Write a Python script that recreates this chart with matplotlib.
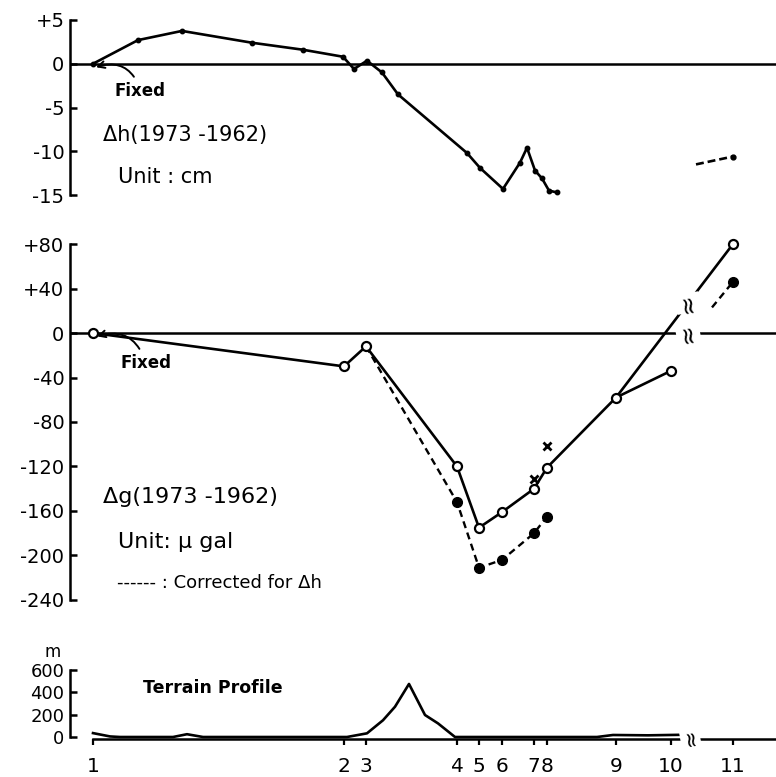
import numpy as np
import matplotlib
matplotlib.use("Agg")
import matplotlib.pyplot as plt

# stations along the profile (horizontal position, arbitrary units)
st_x = [0, 25.1, 27.3, 36.4, 38.6, 40.9, 44.1, 45.4, 52.3, 57.8, 64.0]
st_labels = ['1', '2', '3', '4', '5', '6', '7', '8', '9', '10', '11']

# dh (1973-1962), cm, levelling benchmarks
dh_x = [0, 4.5, 8.9, 15.9, 21.0, 25.0, 26.1, 27.4, 28.9, 30.5, 37.4, 38.7, 41.0,
        42.7, 43.4, 44.2, 44.9, 45.6, 46.4]
dh_val = [0, 2.7, 3.75, 2.4, 1.6, 0.8, -0.6, 0.35, -1.0, -3.5, -10.2, -11.9, -14.3,
          -11.3, -9.6, -12.2, -13.1, -14.5, -14.7]
dh_stub_x = [60.3, 64.0]
dh_stub_val = [-11.5, -10.6]

# dg (1973-1962), microgal, observed at stations 1..11
dg_obs = [0, -30, -12, -120, -175, -161, -140, -121, -58, -34, 80]
# corrected for dh, stations 3..8
dg_corr_idx = [2, 3, 4, 5, 6, 7]
dg_corr = [-12, -152, -211, -204, -180, -165]
dg_stub_x = [61.9, 64.0]
dg_stub_val = [23, 46]
# crosses near stations 7 and 8
cross_idx = [6, 7]
cross_val = [-131.5, -101.6]

# terrain profile, m
ter_x = [0, 1.7, 2.7, 8.0, 9.4, 11.0, 25.4, 27.4, 29.0, 30.2, 31.6, 33.2, 34.5,
         36.2, 50.4, 52.0, 55.5, 59.0]
ter_m = [35, 5, 0, 0, 25, 0, 0, 33, 150, 271, 475, 197, 122, 0, 0, 18, 15, 20]

h_ticks = [5, 0, -5, -10, -15]
h_ticklabels = ['+5', '0', '-5', '-10', '-15']
g_ticks = [80, 40, 0, -40, -80, -120, -160, -200, -240]
g_ticklabels = ['+80', '+40', '0', '-40', '-80', '-120', '-160', '-200', '-240']
t_ticks = [0, 200, 400, 600]
t_ticklabels = ['0', '200', '400', '600']

W, H = 776, 777
xmin, xmax = -2.3, 68.3
lw = 1.9

fig = plt.figure(figsize=(W / 100, H / 100), dpi=100)


def make_ax(top_px, bot_px):
    ax = fig.add_axes([70 / W, 1 - bot_px / H, 1 - 70 / W, (bot_px - top_px) / H])
    ax.set_xlim(xmin, xmax)
    for s in ['top', 'right', 'bottom']:
        ax.spines[s].set_visible(False)
    ax.spines['left'].set_linewidth(1.8)
    ax.tick_params(axis='y', direction='in', length=5, width=1.8, pad=4, labelsize=14)
    ax.set_xticks([])
    return ax


def brk(ax, x, y, size=17):
    # break mark on a line
    ax.text(x, y, '≈', rotation=100, fontsize=size, ha='center', va='center',
            bbox=dict(boxstyle='square,pad=0', fc='white', ec='none'), zorder=6)


# ---- top panel: dh
ax1 = make_ax(10, 205)
ax1.set_ylim(-16.14, 6.14)
ax1.spines['left'].set_bounds(-15, 5)
ax1.set_yticks(h_ticks)
ax1.set_yticklabels(h_ticklabels)
ax1.axhline(0, color='black', lw=1.8)
ax1.plot(dh_x, dh_val, color='black', lw=lw, marker='o', ms=3.2)
ax1.plot(dh_stub_x, dh_stub_val, color='black', lw=lw, ls=(0, (3, 1.5)))
ax1.plot(dh_stub_x[-1], dh_stub_val[-1], 'o', color='black', ms=3.5)
ax1.annotate('Fixed', xy=(0.3, -0.4), xytext=(2.2, -3.1), fontsize=12, fontweight='bold',
             va='center', ha='left',
             arrowprops=dict(arrowstyle='->', lw=1.4, color='black',
                             connectionstyle='arc3,rad=0.5', shrinkA=2, shrinkB=0))
ax1.text(1.0, -8.14, 'Δh(1973 -1962)', fontsize=15, va='center', ha='left')
ax1.text(2.5, -12.9, 'Unit : cm', fontsize=15, va='center', ha='left')

# ---- middle panel: dg
ax2 = make_ax(230, 615)
ax2.set_ylim(-253.5, 92.6)
ax2.spines['left'].set_bounds(-240, 80)
ax2.set_yticks(g_ticks)
ax2.set_yticklabels(g_ticklabels)
ax2.axhline(0, color='black', lw=1.8)

main_idx = [0, 1, 2, 3, 4, 5, 6, 7, 8, 10]
ax2.plot([st_x[i] for i in main_idx], [dg_obs[i] for i in main_idx], color='black', lw=lw)
ax2.plot([st_x[8], st_x[9]], [dg_obs[8], dg_obs[9]], color='black', lw=lw)
ax2.plot([st_x[i] for i in dg_corr_idx], dg_corr, color='black', lw=1.7, ls=(0, (3, 2)))
ax2.plot([st_x[i] for i in dg_corr_idx[1:]], dg_corr[1:], 'o', color='black', ms=7)
ax2.plot(dg_stub_x, dg_stub_val, color='black', lw=1.7, ls=(0, (3, 2)))
ax2.plot(dg_stub_x[-1], dg_stub_val[-1], 'o', color='black', ms=7)
ax2.plot(st_x, dg_obs, 'o', mfc='white', mec='black', mew=1.6, ms=6.5, ls='none', zorder=5)
ax2.plot([st_x[i] for i in cross_idx], cross_val, 'x', color='black', ms=5.5, mew=2)

brk_x = 59.5
brk(ax2, brk_x, np.interp(brk_x, [st_x[8], st_x[10]], [dg_obs[8], dg_obs[10]]))
brk(ax2, brk_x, 0)

ax2.annotate('Fixed', xy=(0.4, -3), xytext=(2.7, -27), fontsize=12, fontweight='bold',
             va='center', ha='left',
             arrowprops=dict(arrowstyle='->', lw=1.4, color='black',
                             connectionstyle='arc3,rad=0.5', shrinkA=2, shrinkB=0))
ax2.text(1.0, -147, 'Δg(1973 -1962)', fontsize=16, va='center', ha='left')
ax2.text(2.5, -188, 'Unit: μ gal', fontsize=16, va='center', ha='left')
ax2.text(2.4, -225, '------ : Corrected for Δh', fontsize=13, va='center', ha='left')

# ---- bottom panel: terrain
ax3 = make_ax(645, 745)
ax3.set_ylim(-71.6, 823.9)
ax3.spines['left'].set_bounds(0, 600)
ax3.spines['bottom'].set_visible(True)
ax3.spines['bottom'].set_position(('data', -15))
ax3.spines['bottom'].set_bounds(0, xmax)
ax3.spines['bottom'].set_linewidth(1.8)
ax3.set_yticks(t_ticks)
ax3.set_yticklabels(t_ticklabels)
ax3.tick_params(axis='y', labelsize=13)
ax3.set_xticks(st_x)
ax3.set_xticklabels(st_labels)
ax3.tick_params(axis='x', direction='out', length=4, width=1.6, pad=9, labelsize=14.5)
ax3.plot(ter_x, ter_m, color='black', lw=lw)
brk(ax3, 59.7, 0, size=15)
ax3.text(5.0, 439, 'Terrain Profile', fontsize=12.5, fontweight='bold', va='center', ha='left')
ax3.text(-4.0, 761, 'm', fontsize=12, va='center', ha='center', clip_on=False)

fig.savefig('out.png', dpi=100)
